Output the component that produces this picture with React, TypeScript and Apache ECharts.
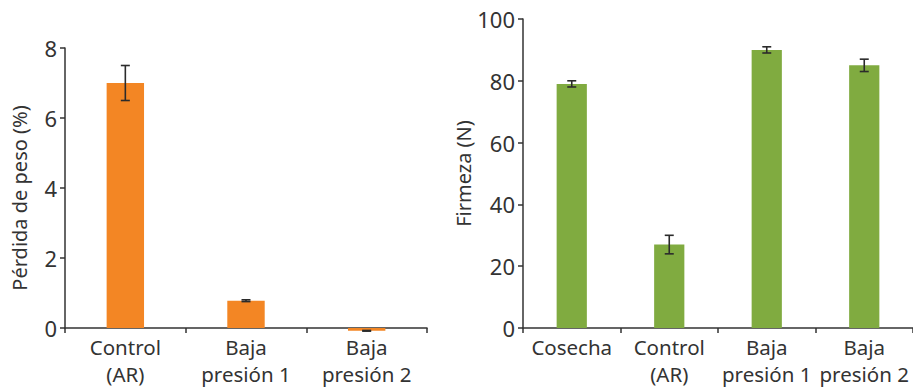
import React, { useEffect, useRef } from "react";
import * as echarts from "echarts";

const leftCategories = ["Control\n(AR)", "Baja\npresión 1", "Baja\npresión 2"];
const leftValues = [7.0, 0.78, -0.08];
const leftErrors = [0.5, 0.025, 0.01];

const rightCategories = ["Cosecha", "Control\n(AR)", "Baja\npresión 1", "Baja\npresión 2"];
const rightValues = [79, 27, 90, 85];
const rightErrors = [1, 3, 1, 2];

const FONT = "Noto Sans";
const TEXT = "#333333";
const AXIS = "#333333";

function errorRender(params: any, api: any) {
  const x = api.value(0);
  const lo = api.value(1);
  const hi = api.value(2);
  const pHi = api.coord([x, hi]);
  const pLo = api.coord([x, lo]);
  const hw = 4.5;
  const style = { stroke: "#2b2b2b", lineWidth: 1.6 };
  return {
    type: "group",
    children: [
      { type: "line", shape: { x1: pHi[0], y1: pHi[1], x2: pLo[0], y2: pLo[1] }, style },
      { type: "line", shape: { x1: pHi[0] - hw, y1: pHi[1], x2: pHi[0] + hw, y2: pHi[1] }, style },
      { type: "line", shape: { x1: pLo[0] - hw, y1: pLo[1], x2: pLo[0] + hw, y2: pLo[1] }, style },
    ],
  };
}

function xAxisCfg(gridIndex: number, data: string[]) {
  return {
    type: "category",
    gridIndex,
    data,
    boundaryGap: true,
    axisLine: { show: true, lineStyle: { color: AXIS, width: 1.5 } },
    axisTick: { show: true, length: 5, lineStyle: { color: AXIS, width: 1.5 } },
    axisLabel: {
      interval: 0,
      color: TEXT,
      fontFamily: FONT,
      fontSize: 20.5,
      lineHeight: 27,
      margin: 5,
    },
    splitLine: { show: false },
  };
}

function yAxisCfg(
  gridIndex: number,
  max: number,
  interval: number,
  name: string,
  nameGap: number,
  namePadding: number[]
) {
  return {
    type: "value",
    gridIndex,
    min: 0,
    max,
    interval,
    name,
    nameLocation: "middle",
    nameGap,
    nameRotate: 90,
    nameTextStyle: { color: TEXT, fontFamily: FONT, fontSize: 20, padding: namePadding },
    axisLine: { show: true, lineStyle: { color: AXIS, width: 1.5 } },
    axisTick: { show: true, length: 5, lineStyle: { color: AXIS, width: 1.5 } },
    axisLabel: { color: TEXT, fontFamily: FONT, fontSize: 22, margin: 8 },
    splitLine: { show: false },
  };
}

export default function App() {
  const ref = useRef<HTMLDivElement>(null);
  useEffect(() => {
    if (!ref.current) return;
    const chart = echarts.init(ref.current, undefined, { renderer: "svg" });
    chart.setOption({
      animation: false,
      backgroundColor: "#ffffff",
      grid: [
        { left: 65, top: 48, width: 362, height: 280 },
        { left: 523, top: 19, width: 390, height: 310 },
      ],
      xAxis: [xAxisCfg(0, leftCategories), xAxisCfg(1, rightCategories)],
      yAxis: [
        yAxisCfg(0, 8, 2, "Pérdida de peso (%)", 36, [0, 20, 0, 0]),
        yAxisCfg(1, 100, 20, "Firmeza (N)", 48, [0, 0, 0, 0]),
      ],
      series: [
        {
          type: "bar",
          xAxisIndex: 0,
          yAxisIndex: 0,
          data: leftValues,
          barWidth: "31%",
          clip: false,
          itemStyle: { color: "#f38624" },
        },
        {
          type: "custom",
          xAxisIndex: 0,
          yAxisIndex: 0,
          clip: false,
          renderItem: errorRender,
          encode: { x: 0, y: [1, 2] },
          data: leftValues.map((v, i) => [i, v - leftErrors[i], v + leftErrors[i]]),
          z: 5,
        },
        {
          type: "bar",
          xAxisIndex: 1,
          yAxisIndex: 1,
          data: rightValues,
          barWidth: "31%",
          clip: false,
          itemStyle: { color: "#80ab40" },
        },
        {
          type: "custom",
          xAxisIndex: 1,
          yAxisIndex: 1,
          clip: false,
          renderItem: errorRender,
          encode: { x: 0, y: [1, 2] },
          data: rightValues.map((v, i) => [i, v - rightErrors[i], v + rightErrors[i]]),
          z: 5,
        },
      ],
    });
    return () => chart.dispose();
  }, []);
  return (
    <div
      ref={ref}
      style={{ position: "absolute", left: 0, top: 0, width: 913, height: 387 }}
    />
  );
}
